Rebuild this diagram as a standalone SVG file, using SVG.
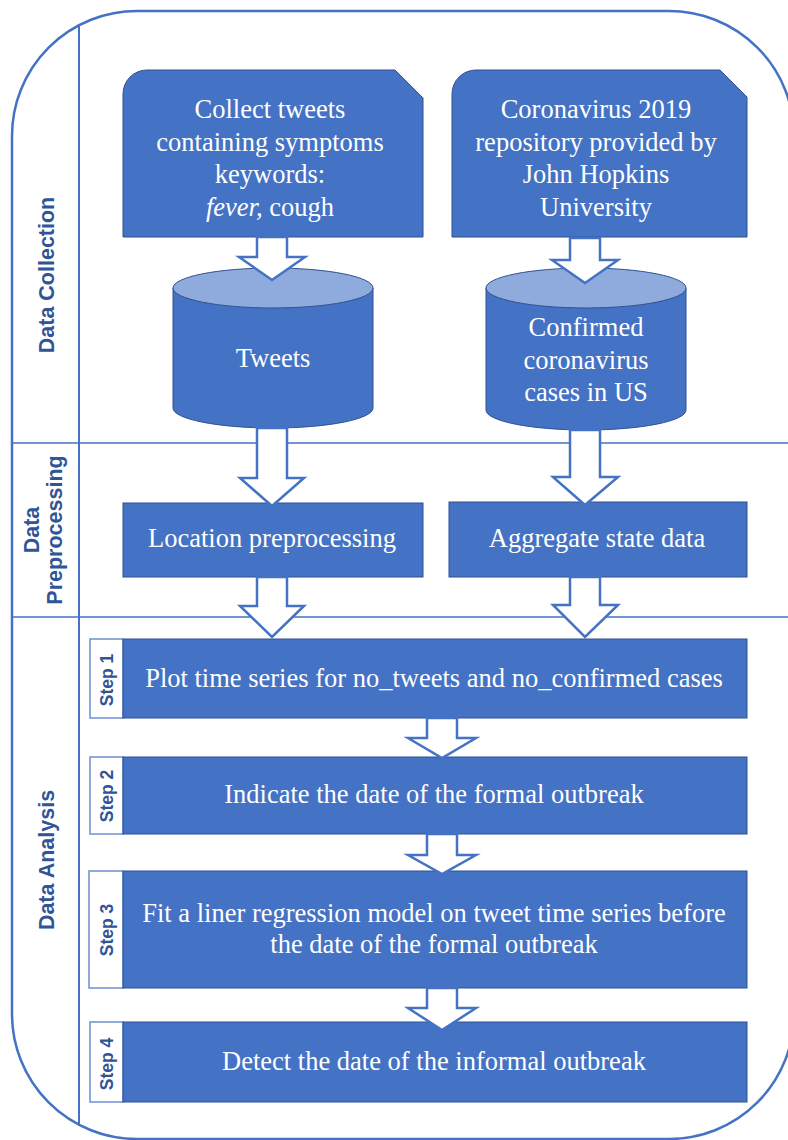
<svg xmlns="http://www.w3.org/2000/svg" width="788" height="1140" viewBox="0 0 788 1140">
<style>
.frame{fill:none;stroke:#4472C4;stroke-width:2.5}
.lane{stroke:#4472C4;stroke-width:2}
.hl{stroke:#4472C4;stroke-width:1.5}
.box{fill:#4472C4;stroke:#2F528F;stroke-width:1}
.cyltop{fill:#8FAADC;stroke:#2F528F;stroke-width:1}
.tag{fill:#FFFFFF;stroke:#6C8FCF;stroke-width:1.5}
.arr{fill:#FFFFFF;stroke:#4472C4;stroke-width:2.5;stroke-linejoin:miter}
.t{font-family:"Liberation Serif","Times New Roman",serif;font-size:26.5px;fill:#FFFFFF;text-anchor:middle}
.lbl{font-family:"Liberation Sans",Arial,sans-serif;font-weight:bold;font-size:21.5px;fill:#2F5597;text-anchor:middle}
.step{font-family:"Liberation Sans",Arial,sans-serif;font-weight:bold;font-size:17.5px;fill:#2F5597;text-anchor:middle}
</style>
<rect width="788" height="1140" fill="#FFFFFF"/>
<g id="frame">
<rect class="frame" x="12" y="11" width="782" height="1128" rx="125" ry="125"/>
<line class="lane" x1="79" y1="25" x2="79" y2="1126"/>
<line class="hl" x1="12" y1="443" x2="788" y2="443"/>
<line class="hl" x1="12" y1="617" x2="788" y2="617"/>
<text class="lbl" transform="translate(54,275) rotate(-90)">Data Collection</text>
<text class="lbl" transform="translate(39,530) rotate(-90)">Data</text>
<text class="lbl" transform="translate(62,530) rotate(-90)">Preprocessing</text>
<text class="lbl" transform="translate(54,860) rotate(-90)">Data Analysis</text>
</g>
<g id="collect-tweets">
<path class="box" d="M123,237 V94 A24,24 0 0 1 147,70 H395 L423,98 V237 Z"/>
<text class="t" x="270" y="118">Collect tweets</text>
<text class="t" x="270" y="151">containing symptoms</text>
<text class="t" x="270" y="183">keywords:</text>
<text class="t" x="270" y="216"><tspan font-style="italic">fever,</tspan> cough</text>
</g>
<g id="jhu-repo">
<path class="box" d="M452,237 V94 A24,24 0 0 1 476,70 H720 L747,97 V237 Z"/>
<text class="t" x="596" y="118">Coronavirus 2019</text>
<text class="t" x="596" y="151">repository provided by</text>
<text class="t" x="596" y="183">John Hopkins</text>
<text class="t" x="596" y="216">University</text>
</g>
<g id="tweets-db">
<path class="box" d="M173,288 V408 A100,20 0 0 0 373,408 V288 Z"/>
<ellipse class="cyltop" cx="273" cy="288" rx="100" ry="20"/>
<text class="t" x="273" y="367">Tweets</text>
</g>
<g id="cases-db">
<path class="box" d="M486,288 V410 A100,20 0 0 0 686,410 V288 Z"/>
<ellipse class="cyltop" cx="586" cy="288" rx="100" ry="20"/>
<text class="t" x="586" y="336">Confirmed</text>
<text class="t" x="586" y="369">coronavirus</text>
<text class="t" x="586" y="401">cases in US</text>
</g>
<g id="location-preprocessing">
<rect class="box" x="123" y="503" width="300" height="74"/>
<text class="t" x="272" y="547">Location preprocessing</text>
</g>
<g id="aggregate-state">
<rect class="box" x="449" y="502" width="298" height="75"/>
<text class="t" x="597" y="547">Aggregate state data</text>
</g>
<g id="step1">
<rect class="tag" x="90" y="639" width="33" height="79"/>
<rect class="box" x="123" y="639" width="624" height="79"/>
<text class="step" transform="translate(113,680) rotate(-90)">Step 1</text>
<text class="t" x="434" y="687">Plot time series for no_tweets and no_confirmed cases</text>
</g>
<g id="step2">
<rect class="tag" x="90" y="757" width="33" height="77"/>
<rect class="box" x="123" y="757" width="624" height="77"/>
<text class="step" transform="translate(113,796) rotate(-90)">Step 2</text>
<text class="t" x="434" y="803">Indicate the date of the formal outbreak</text>
</g>
<g id="step3">
<rect class="tag" x="89" y="871" width="34" height="117"/>
<rect class="box" x="123" y="871" width="624" height="117"/>
<text class="step" transform="translate(113,930) rotate(-90)">Step 3</text>
<text class="t" x="434" y="922">Fit a liner regression model on tweet time series before</text>
<text class="t" x="434" y="953">the date of the formal outbreak</text>
</g>
<g id="step4">
<rect class="tag" x="90" y="1022" width="33" height="80"/>
<rect class="box" x="123" y="1022" width="624" height="80"/>
<text class="step" transform="translate(113,1064) rotate(-90)">Step 4</text>
<text class="t" x="434" y="1070">Detect the date of the informal outbreak</text>
</g>
<g id="connectors">
<polygon class="arr" points="257,237 287,237 287,257 305,257 272,280 239,257 257,257"/>
<polygon class="arr" points="570,238 600,238 600,260 618,260 585,283 552,260 570,260"/>
<polygon class="arr" points="257,428 287,428 287,478 304,478 272,506 240,478 257,478"/>
<polygon class="arr" points="570,430 600,430 600,477 618,477 585,505 553,477 570,477"/>
<polygon class="arr" points="257,577 287,577 287,606 304,606 272,637 240,606 257,606"/>
<polygon class="arr" points="570,577 600,577 600,605 618,605 585,637 553,605 570,605"/>
<polygon class="arr" points="427,718 457,718 457,738 476,738 442,758 408,738 427,738"/>
<polygon class="arr" points="427,834 457,834 457,855 476,855 442,874 408,855 427,855"/>
<polygon class="arr" points="427,988 457,988 457,1008 476,1008 442,1030 408,1008 427,1008"/>
</g>
</svg>
